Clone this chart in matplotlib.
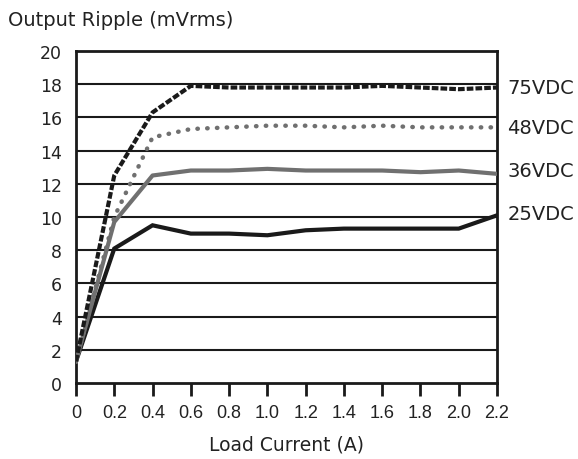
import matplotlib
matplotlib.use("Agg")
import matplotlib.pyplot as plt
from matplotlib import font_manager

load_current = [0.0, 0.2, 0.4, 0.6, 0.8, 1.0, 1.2, 1.4, 1.6, 1.8, 2.0, 2.2]
ripple_75 = [1.3, 12.5, 16.3, 17.9, 17.8, 17.8, 17.8, 17.8, 17.9, 17.8, 17.7, 17.8]
ripple_48 = [1.3, 10.0, 14.8, 15.3, 15.4, 15.5, 15.5, 15.4, 15.5, 15.4, 15.4, 15.4]
ripple_36 = [1.3, 9.7, 12.5, 12.8, 12.8, 12.9, 12.8, 12.8, 12.8, 12.7, 12.8, 12.6]
ripple_25 = [1.3, 8.1, 9.5, 9.0, 9.0, 8.9, 9.2, 9.3, 9.3, 9.3, 9.3, 10.1]
series_labels = ["75VDC", "48VDC", "36VDC", "25VDC"]
x_ticks = [0.0, 0.2, 0.4, 0.6, 0.8, 1.0, 1.2, 1.4, 1.6, 1.8, 2.0, 2.2]
x_tick_labels = ["0", "0.2", "0.4", "0.6", "0.8", "1.0", "1.2", "1.4", "1.6", "1.8", "2.0", "2.2"]
y_ticks = list(range(0, 21, 2))

names = {f.name for f in font_manager.fontManager.ttflist}
narrow = "Liberation Sans Narrow" if "Liberation Sans Narrow" in names else "Liberation Sans"
plt.rcParams["font.family"] = ["DejaVu Sans"]

fig = plt.figure(figsize=(5.78, 4.6), dpi=100)
ax = fig.add_axes([76 / 578, 1 - 384 / 460, (497 - 76) / 578, (384 - 52) / 460])

for y in y_ticks[1:-1]:
    ax.axhline(y, color="#1a1a1a", lw=1.5, zorder=1)

ax.plot(load_current, ripple_25, color="#1a1a1a", lw=3.0, solid_joinstyle="miter", zorder=3)
ax.plot(load_current, ripple_36, color="#707070", lw=3.0, zorder=3)
ax.plot(load_current, ripple_48, color="#707070", lw=3.2, linestyle=(0, (0.1, 2.1)),
        dash_capstyle="round", zorder=3)
ax.plot(load_current, ripple_75, color="#1a1a1a", lw=3.0, linestyle=(0, (1.6, 0.5)), zorder=4)

ax.set_xlim(0, 2.2)
ax.set_ylim(0, 20)
ax.set_xticks(x_ticks)
ax.set_xticklabels(x_tick_labels, fontfamily=narrow, fontsize=13, color="#222222")
ax.set_yticks(y_ticks)
ax.set_yticklabels([str(v) for v in y_ticks], fontsize=12.5, color="#222222")
ax.tick_params(axis="x", direction="out", length=9, width=2, color="#1a1a1a", pad=6)
ax.tick_params(axis="y", length=0, pad=10)
for s in ax.spines.values():
    s.set_linewidth(2)
    s.set_color("#1a1a1a")

label_y = [17.8, 15.4, 12.8, 10.2]
for lab, yv in zip(series_labels, label_y):
    ax.text(2.255, yv, lab, fontsize=14, va="center", ha="left", color="#222222",
            clip_on=False)

ax.set_xlabel("Load Current (A)", fontsize=13.5, labelpad=10, color="#222222")
fig.text(8 / 578, 1 - 20 / 460, "Output Ripple (mVrms)", fontsize=14, va="center", ha="left",
         color="#222222")

fig.savefig("out.png", dpi=100)
